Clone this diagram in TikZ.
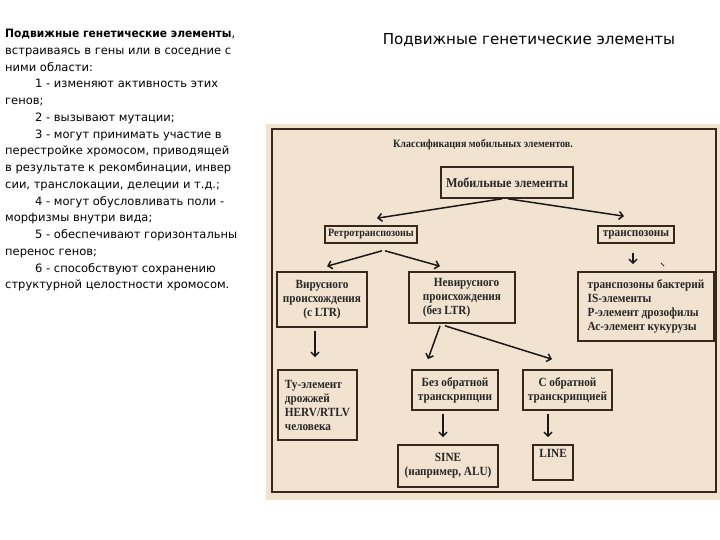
\documentclass[tikz,border=0pt]{standalone}
\usepackage{fontspec}
\setmainfont{DejaVu Sans}[BoldFeatures={FakeStretch=0.93}]
\newfontfamily\dfont[FakeStretch=0.9]{Liberation Serif}
\usetikzlibrary{arrows.meta}
\definecolor{beige}{RGB}{242,227,208}
\definecolor{boxc}{RGB}{55,40,30}
\begin{document}
\begin{tikzpicture}[x=1pt,y=-1pt,
  box/.style={draw=boxc,line width=1.6pt,inner sep=1pt,text=black!85,align=center,
    font=\dfont\bfseries\fontsize{12.5}{14}\selectfont},
  lbox/.style={box,align=left},
  arr/.style={draw=black!90,line width=1.5pt,-{Straight Barb[length=4pt,width=8pt]}},
  txt/.style={font=\fontsize{11.5}{16.75}\selectfont,align=left,inner sep=0pt,text=black}]
\useasboundingbox (0,0) rectangle (720,540);
% left text
\node[txt,anchor=north west] (lt) at (5,29) {%
\textbf{Подвижные генетические элементы}, \\
встраиваясь в гены или в соседние с \\
ними области: \\
\hspace*{30pt}1 - изменяют активность этих \\
генов; \\
\hspace*{30pt}2 - вызывают мутации; \\
\hspace*{30pt}3 - могут принимать участие в \\
перестройке хромосом, приводящей \\
в результате к рекомбинации, инвер \\
сии, транслокации, делеции и т.д.; \\
\hspace*{30pt}4 - могут обусловливать поли - \\
морфизмы внутри вида; \\
\hspace*{30pt}5 - обеспечивают горизонтальны \\
перенос генов; \\
\hspace*{30pt}6 - способствуют сохранению \\
структурной целостности хромосом.};
% right title
\node[font=\fontsize{15.1}{17}\selectfont,text=black] (ttl) at (529,40) {Подвижные генетические элементы};
% panel
\fill[beige] (266,124) rectangle (720,500);
\draw[boxc,line width=1.5pt] (272,129) rectangle (716,492);
\node[font=\dfont\bfseries\fontsize{11.2}{13}\selectfont,text=black!85] (cls) at (483,145) {Классификация мобильных элементов.};
% boxes
\node[box,minimum width=132pt,minimum height=31pt,font=\dfont\bfseries\fontsize{13.5}{15}\selectfont] (mob) at (507,182.5) {Мобильные элементы};
\node[box,minimum width=92pt,minimum height=17pt,font=\dfont\bfseries\fontsize{11.2}{13}\selectfont] (retro) at (371,234.5) {Ретротранспозоны};
\node[box,minimum width=76pt,minimum height=17pt] (trans) at (636,234.5) {транспозоны};
\node[box,minimum width=90pt,minimum height=55pt] (vir) at (322,299.5) {Вирусного\\происхождения\\(с LTR)};
\node[lbox,minimum width=106pt,minimum height=51pt,inner xsep=3pt] (nevir) at (462,297.5) {\hspace*{11pt}Невирусного\\происхождения\\(без LTR)};
\node[lbox,minimum width=136pt,minimum height=69pt,inner xsep=8pt] (tb) at (646,306.5) {транспозоны бактерий\\IS-элементы\\Р-элемент дрозофилы\\Ас-элемент кукурузы};
\node[lbox,minimum width=79pt,minimum height=70pt,inner xsep=4pt] (ty) at (317.5,405) {Ту-элемент\\дрожжей\\HERV/RTLV\\человека};
\node[box,minimum width=86pt,minimum height=40pt] (bez) at (455,390) {Без обратной\\транскрипции};
\node[box,minimum width=89pt,minimum height=40pt] (sobr) at (567.5,390) {С обратной\\транскрипцией};
\node[box,minimum width=100pt,minimum height=42pt] (sine) at (448,466) {SINE\\(например, ALU)};
\node[box,minimum width=40pt,minimum height=35pt,text depth=18pt] (line) at (553,462.5) {LINE};
% arrows
\draw[arr] ([xshift=-5pt]mob.south) -- ([xshift=6pt,yshift=7pt]retro.north);
\draw[arr] ([xshift=1pt]mob.south) -- ([xshift=-12pt,yshift=9pt]trans.north);
\draw[arr] ([yshift=-9pt,xshift=-3pt]trans.south) -- ([xshift=-13pt,yshift=7pt]tb.north);
\draw[arr] ([xshift=11pt,yshift=-7pt]retro.south) -- ([xshift=5pt,yshift=5pt]vir.north);
\draw[arr] ([xshift=14pt,yshift=-7pt]retro.south) -- ([xshift=-22pt,yshift=5pt]nevir.north);
\draw[arr] ([xshift=-7pt,yshift=-3pt]vir.south) -- ([xshift=-2.5pt,yshift=12pt]ty.north);
\draw[arr] ([xshift=-22pt,yshift=-2pt]nevir.south) -- ([xshift=-27pt,yshift=10pt]bez.north);
\draw[arr] ([xshift=-17pt,yshift=-2pt]nevir.south) -- ([xshift=-15.5pt,yshift=10pt]sobr.north);
\draw[arr] ([xshift=-12pt,yshift=-3pt]bez.south) -- ([xshift=-5pt,yshift=7pt]sine.north);
\draw[arr] ([xshift=-19.5pt,yshift=-3pt]sobr.south) -- ([xshift=-5pt,yshift=7pt]line.north);
\coordinate (tk1) at (661,263);
\coordinate (tk2) at (664,266);
\draw[black!80,line width=1pt] (tk1) -- (tk2);
\end{tikzpicture}
\end{document}
